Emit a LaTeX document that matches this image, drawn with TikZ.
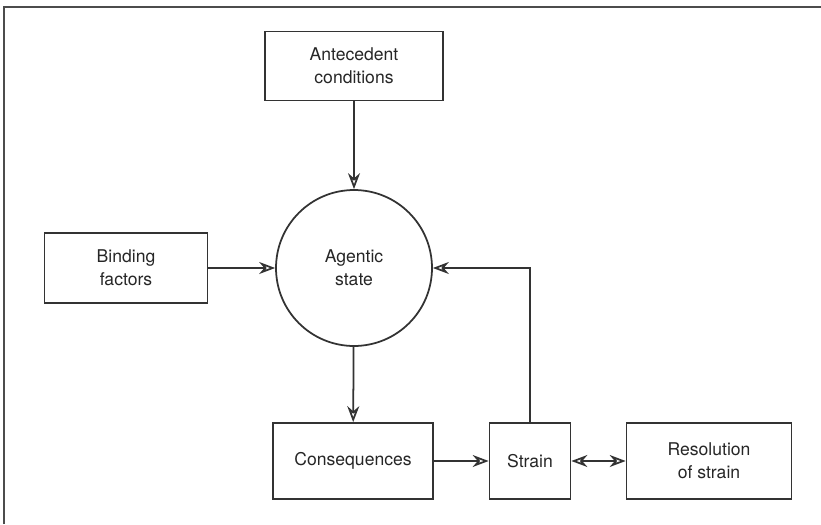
\documentclass[tikz,border=0pt]{standalone}
\usepackage{fontspec}
\setmainfont{TeX Gyre Heros}
\usetikzlibrary{arrows.meta}
\usetikzlibrary{positioning}

\begin{document}
\begin{tikzpicture}[x=0.02cm, y=-0.02cm,
    every node/.style={font=\fontsize{10}{13}\selectfont, align=center, text=black!85},
    blockbox/.style={draw=black!80, line width=1pt, inner sep=0pt},
    flow/.style={draw=black!80, line width=1pt, -{Stealth[length=3.2mm, width=2.4mm, open]}},
    twoway/.style={draw=black!80, line width=1pt, {Stealth[length=3.2mm, width=2.4mm, open]}-{Stealth[length=3.2mm, width=2.4mm, open]}}]
    \useasboundingbox (0,0) rectangle (821,524);
    % frame
    \draw[black!70, line width=0.8pt] (4,524) -- (4,7) -- (821,7);

    % blocks
    \node[blockbox, minimum width=3.56cm, minimum height=1.38cm] (antecedent) at (354,66) {Antecedent\\conditions};
    \node[draw=black!80, line width=1pt, circle, minimum size=3.12cm] (agentic) at (354,268) {Agentic\\state};
    \node[blockbox, minimum width=3.26cm, minimum height=1.4cm] (binding) at (126,268) {Binding\\factors};
    \node[blockbox, minimum width=3.2cm, minimum height=1.52cm] (consequences) at (353,461) {Consequences};
    \node[blockbox, minimum width=1.62cm, minimum height=1.52cm] (strain) at (530,461) {Strain};
    \node[blockbox, minimum width=3.3cm, minimum height=1.52cm] (resolution) at (709,461) {Resolution\\of strain};

    % arrows
    \draw[flow] (antecedent) -- (agentic);
    \draw[flow] (binding) -- (agentic);
    \draw[flow] (agentic) -- (consequences);
    \draw[flow] (consequences) -- (strain);
    \draw[twoway] (strain) -- (resolution);
    \draw[flow] (strain.north) |- (agentic.east);
\end{tikzpicture}
\end{document}
